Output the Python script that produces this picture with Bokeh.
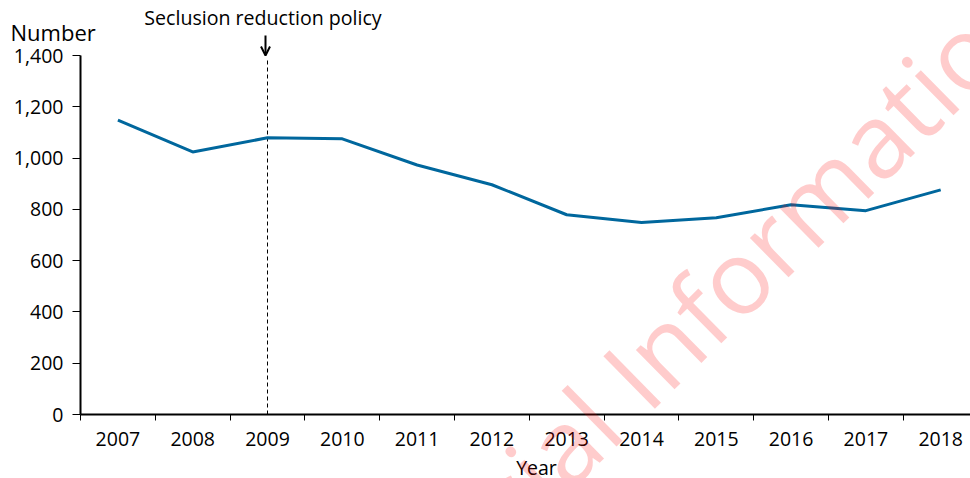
from bokeh.plotting import figure
from bokeh.models import (ColumnDataSource, Range1d, FixedTicker, NumeralTickFormatter,
                          BasicTickFormatter, Label, Arrow, OpenHead)
from bokeh.embed import file_html
from bokeh.resources import INLINE
import math

# ---- data ----
years = [2007, 2008, 2009, 2010, 2011, 2012, 2013, 2014, 2015, 2016, 2017, 2018]
numbers = [1148, 1024, 1079, 1075, 973, 896, 779, 749, 767, 818, 795, 876]
y_ticks = [0, 200, 400, 600, 800, 1000, 1200, 1400]
policy_year = 2009
policy_text = "Seclusion reduction policy"
y_title = "Number"
x_title = "Year"
watermark = "Official Information"

FONT = "Open Sans"
LINE_COLOR = "#00679d"

W, H = 970, 478
# pixel geometry of the plotting area inside the canvas
AX_LEFT, AX_BOTTOM, AX_TOP = 80, 414, 55
PX_PER_YEAR = 74.8
px_per_unit = (AX_BOTTOM - AX_TOP) / (y_ticks[-1] - y_ticks[0])
x0 = years[0] - 0.5
x_lo = x0 - AX_LEFT / PX_PER_YEAR
x_hi = x0 + (W - AX_LEFT) / PX_PER_YEAR
y_lo = -(H - AX_BOTTOM) / px_per_unit
y_hi = AX_BOTTOM / px_per_unit


def px_x(px):
    return x0 + (px - AX_LEFT) / PX_PER_YEAR


def px_y(py):
    return (AX_BOTTOM - py) / px_per_unit


source = ColumnDataSource(data=dict(year=years, number=numbers))

p = figure(width=W, height=H, output_backend="svg", toolbar_location=None,
           x_range=Range1d(x_lo, x_hi), y_range=Range1d(y_lo, y_hi),
           min_border=0, min_border_left=0, min_border_right=0,
           min_border_top=0, min_border_bottom=0)

p.outline_line_color = None
p.xgrid.visible = False
p.ygrid.visible = False
p.background_fill_color = "white"
p.border_fill_color = "white"

# dashed policy marker
p.segment(x0=[policy_year], y0=[y_ticks[0]], x1=[policy_year], y1=[y_ticks[-1] - 8],
          line_color="black", line_width=1, line_dash="4 3")

p.line("year", "number", source=source, line_color=LINE_COLOR, line_width=3)

# y axis, drawn at the left edge of the data area
yax = p.yaxis[0]
yax.fixed_location = x0
yax.bounds = (y_ticks[0], y_ticks[-1])
yax.ticker = FixedTicker(ticks=y_ticks)
yax.formatter = NumeralTickFormatter(format="0,0")
yax.axis_line_width = 2
yax.axis_line_color = "black"
yax.major_tick_out = 8
yax.major_tick_in = 0
yax.minor_tick_out = 0
yax.minor_tick_in = 0
yax.major_tick_line_color = "black"
yax.major_label_standoff = 9
yax.major_label_text_font = FONT
yax.major_label_text_font_size = "19.5px"
yax.major_label_text_color = "black"

# x axis: ticks at category boundaries, labels at centres
xax = p.xaxis[0]
xax.fixed_location = y_ticks[0]
xax.bounds = (x0, x_hi)
xax.ticker = FixedTicker(ticks=years, minor_ticks=[y - 0.5 for y in years])
xax.formatter = BasicTickFormatter(use_scientific=False)
xax.axis_line_width = 2
xax.axis_line_color = "black"
xax.major_tick_out = 0
xax.major_tick_in = 0
xax.minor_tick_out = 6
xax.minor_tick_in = 0
xax.minor_tick_line_color = "black"
xax.major_label_standoff = 11
xax.major_label_text_font = FONT
xax.major_label_text_font_size = "19.5px"
xax.major_label_text_color = "black"

SHIFT = 8.5  # empirical baseline correction for Label text

p.add_layout(Label(x=px_x(536), y=px_y(475 - SHIFT), text=x_title,
                   text_font=FONT, text_font_size="19.5px", text_color="black",
                   text_align="center", text_baseline="alphabetic"))

# annotations above the plot
p.add_layout(Label(x=px_x(10), y=px_y(40 - SHIFT), text=y_title,
                   text_font=FONT, text_font_size="22px", text_color="black",
                   text_align="left", text_baseline="alphabetic"))
p.add_layout(Label(x=px_x(262.5), y=px_y(25.5 - SHIFT), text=policy_text,
                   text_font=FONT, text_font_size="19.6px", text_color="black",
                   text_align="center", text_baseline="alphabetic"))
p.add_layout(Arrow(end=OpenHead(size=9, line_width=2, line_color="black"),
                   x_start=px_x(265), y_start=px_y(35),
                   x_end=px_x(265), y_end=px_y(55),
                   line_width=2, line_color="black"))

# watermark
ang = math.radians(44.5)
p.add_layout(Label(x=px_x(362), y=px_y(648 - SHIFT), text=watermark, angle=ang,
                   text_font=FONT, text_font_size="103px", text_color="red",
                   text_alpha=0.2, text_align="left", text_baseline="alphabetic",
                   level="overlay"))

open("out.html", "w").write(file_html(p, INLINE))
